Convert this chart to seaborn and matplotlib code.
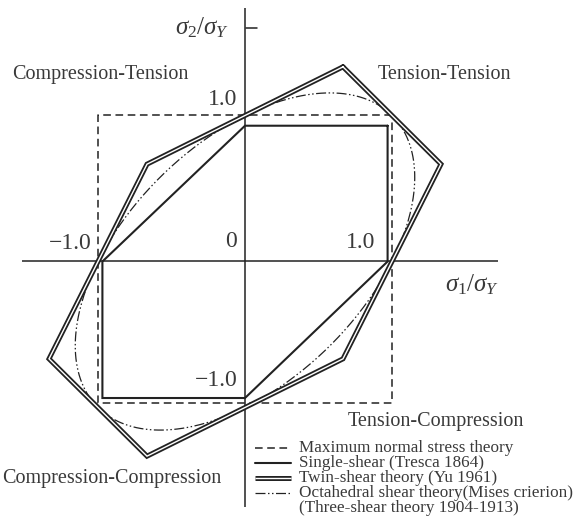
import numpy as np
import pandas as pd
import matplotlib
matplotlib.use("Agg")
import matplotlib.pyplot as plt
import seaborn as sns

# --- yield loci in the (sigma1/sigmaY, sigma2/sigmaY) plane ---
# maximum normal stress theory (square)
max_normal_s1 = [1.0, -1.0, -1.0, 1.0, 1.0]
max_normal_s2 = [1.0, 1.0, -0.97, -0.97, 1.0]

# single-shear theory, Tresca hexagon
tresca_s1 = [0.97, 0.0, -0.97, -0.97, 0.0, 0.97, 0.97]
tresca_s2 = [0.93, 0.93, 0.0, -0.935, -0.935, 0.0, 0.93]

# twin-shear theory, Yu hexagon
twin_s1 = [2/3, 4/3, 2/3, -2/3, -4/3, -2/3, 2/3]
twin_s2 = [4/3, 2/3, -2/3, -4/3, -2/3, 2/3, 4/3]

# octahedral shear (Mises) ellipse: s1^2 - s1*s2 + s2^2 = 1
mises_major = np.sqrt(2.0)
mises_minor = np.sqrt(2.0 / 3.0)

quadrant_labels = ["Compression-Tension", "Tension-Tension",
                   "Tension-Compression", "Compression-Compression"]
legend_labels = ["Maximum normal stress theory",
                 "Single-shear (Tresca 1864)",
                 "Twin-shear theory (Yu 1961)",
                 "Octahedral shear theory(Mises crierion)",
                 "(Three-shear theory 1904-1913)"]

sns.set_theme(style="white")
plt.rcParams["font.family"] = ["Liberation Serif", "DejaVu Serif"]
plt.rcParams["mathtext.fontset"] = "custom"
plt.rcParams["mathtext.rm"] = "Liberation Serif"
plt.rcParams["mathtext.it"] = "Liberation Serif:italic"

W, H = 575, 525
fig = plt.figure(figsize=(W / 100, H / 100), dpi=100)
ax = fig.add_axes([0, 0, 1, 1])
ax.set_axis_off()

# pixel frame: origin at (245, 261.5), 147 px per unit horizontally, 146 vertically
CX, CY, SX, SY = 245.0, 261.5, 147.0, 146.0
ax.set_xlim(-CX / SX, (W - CX) / SX)
ax.set_ylim((CY - H) / SY, CY / SY)


def P(px, py):
    return (px - CX) / SX, (CY - py) / SY


INK = "#222222"
TXT = "#3a3a3a"

# coordinate axes
x0, _ = P(22, 0)
x1, _ = P(498, 0)
_, y0 = P(0, 507)
_, y1 = P(0, 8)
ax.plot([x0, x1], [0, 0], color=INK, lw=1.1, solid_capstyle="butt")
ax.plot([0, 0], [y0, y1], color=INK, lw=1.1, solid_capstyle="butt")
tx0, ty = P(246, 28)
tx1, _ = P(257, 28)
ax.plot([tx0, tx1], [ty, ty], color=INK, lw=1.1)

dash_style = (0, (5, 3))
mises_style = (0, (8, 2, 1.2, 2, 1.2, 2))

# maximum normal stress
sns.lineplot(x=max_normal_s1, y=max_normal_s2, sort=False, estimator=None,
             color=INK, lw=1.1, linestyle=dash_style, ax=ax)

# Mises ellipse
theta = np.linspace(0, 2 * np.pi, 400)
u = mises_major * np.cos(theta)
v = mises_minor * np.sin(theta)
mises = pd.DataFrame({"s1": (u + v) / np.sqrt(2), "s2": (u - v) / np.sqrt(2)})
sns.lineplot(data=mises, x="s1", y="s2", sort=False, estimator=None,
             color=INK, lw=0.9, linestyle=mises_style, ax=ax)

# Tresca
sns.lineplot(x=tresca_s1, y=tresca_s2, sort=False, estimator=None,
             color=INK, lw=1.5, solid_joinstyle="miter", ax=ax)

# twin-shear drawn as a double line
sns.lineplot(x=twin_s1, y=twin_s2, sort=False, estimator=None,
             color=INK, lw=3.6, solid_joinstyle="miter", ax=ax)
sns.lineplot(x=twin_s1, y=twin_s2, sort=False, estimator=None,
             color="white", lw=1.0, solid_joinstyle="miter", ax=ax)

# axis titles and numbers
ax.text(*P(202, 28), r"$\sigma_2/\sigma_Y$", fontsize=18, color=TXT,
        ha="center", va="center")
ax.text(*P(472, 285), r"$\sigma_1/\sigma_Y$", fontsize=18, color=TXT,
        ha="center", va="center")
num_kw = dict(fontsize=17, color=TXT, va="center")
ax.text(*P(237, 100), "1.0", ha="right", **num_kw)
ax.text(*P(375, 243), "1.0", ha="right", **num_kw)
ax.text(*P(92, 244), "\u22121.0", ha="right", **num_kw)
ax.text(*P(238, 381), "\u22121.0", ha="right", **num_kw)
ax.text(*P(237, 242), "0", ha="right", **num_kw)

# quadrant names
q_kw = dict(fontsize=14.5, color=TXT, va="center")
ax.text(*P(100, 75), quadrant_labels[0], ha="center", **q_kw)
ax.text(*P(444, 75), quadrant_labels[1], ha="center", **q_kw)
ax.text(*P(436, 422), quadrant_labels[2], ha="center", **q_kw)
ax.text(*P(112, 479), quadrant_labels[3], ha="center", **q_kw)

# legend keys
rows = [448, 463, 478, 493, 508]
lx0, _ = P(255, 0)
lx1, _ = P(291, 0)
key_x = [lx0, lx1]
_, r0 = P(0, rows[0])
_, r1 = P(0, rows[1])
_, r2 = P(0, rows[2])
_, r3 = P(0, rows[3])
sns.lineplot(x=key_x, y=[r0, r0], color=INK, lw=1.1, linestyle=dash_style, ax=ax)
sns.lineplot(x=key_x, y=[r1, r1], color=INK, lw=1.5, ax=ax)
sns.lineplot(x=key_x, y=[r2, r2], color=INK, lw=3.6, solid_capstyle="butt", ax=ax)
sns.lineplot(x=key_x, y=[r2, r2], color="white", lw=1.0, solid_capstyle="butt", ax=ax)
sns.lineplot(x=key_x, y=[r3, r3], color=INK, lw=0.9, linestyle=mises_style, ax=ax)
for row, label in zip(rows, legend_labels):
    ax.text(*P(299, row), label, fontsize=12.3, color=TXT, ha="left", va="center")

if ax.get_legend() is not None:
    ax.get_legend().remove()

fig.savefig("out.png", dpi=100, facecolor="white")
